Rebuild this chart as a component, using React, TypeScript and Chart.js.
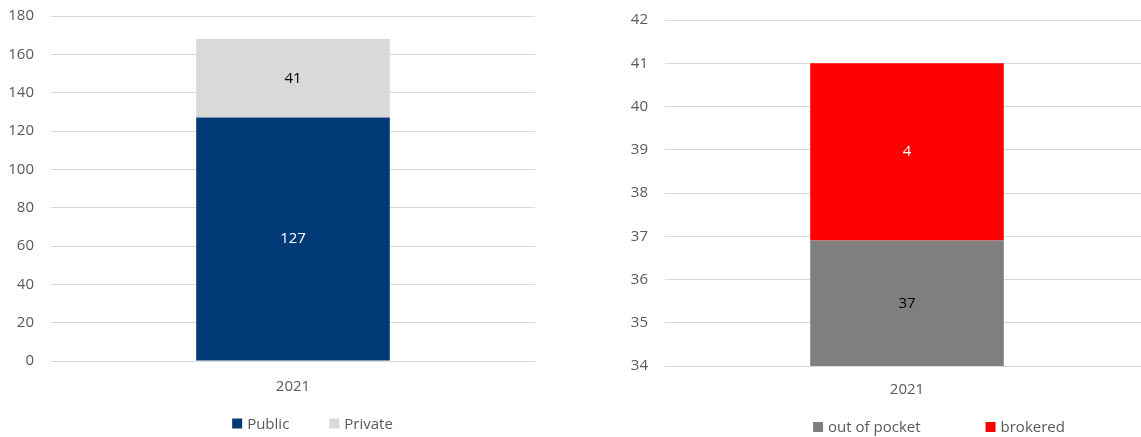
import React, { useEffect, useRef } from "react";
import { Chart, registerables } from "chart.js";

Chart.register(...registerables);

// ---- data ----
const categories = ["2021"];
const publicValues = [127];
const privateValues = [41];
const outOfPocketValues = [36.9];
const brokeredValues = [4.1];

const leftAxisMin = 0;
const leftAxisMax = 180;
const leftAxisStep = 20;
const rightAxisMin = 34;
const rightAxisMax = 42;
const rightAxisStep = 1;

// ---- style ----
const FONT = "'Open Sans', sans-serif";
const TEXT_GRAY = "#595959";
const GRID_GRAY = "#D9D9D9";

const barLabels = {
  id: "barLabels",
  afterDatasetsDraw(chart: any) {
    const { ctx, chartArea } = chart;
    chart.data.datasets.forEach((ds: any, i: number) => {
      const meta = chart.getDatasetMeta(i);
      meta.data.forEach((el: any, j: number) => {
        const v = ds.data[j];
        const top = Math.max(Math.min(el.y, el.base), chartArea.top);
        const bottom = Math.min(Math.max(el.y, el.base), chartArea.bottom);
        ctx.save();
        ctx.fillStyle = ds.labelColor;
        ctx.font = `15px ${FONT}`;
        ctx.textAlign = "center";
        ctx.textBaseline = "middle";
        ctx.fillText(String(Math.round(v)), el.x, (top + bottom) / 2);
        ctx.restore();
      });
    });
  },
};

const customLegend = {
  id: "customLegend",
  afterDraw(chart: any, _args: any, opts: any) {
    const { ctx } = chart;
    const box = 10;
    const boxGap = 5;
    ctx.save();
    ctx.font = `15px ${FONT}`;
    const items = chart.data.datasets.map((ds: any) => ({
      text: ds.label,
      color: ds.backgroundColor,
      w: box + boxGap + ctx.measureText(ds.label).width,
    }));
    const total =
      items.reduce((s: number, it: any) => s + it.w, 0) + opts.gap * (items.length - 1);
    let x = opts.centerX - total / 2;
    ctx.textBaseline = "middle";
    ctx.textAlign = "left";
    items.forEach((it: any) => {
      ctx.fillStyle = it.color;
      ctx.fillRect(x, opts.y - box / 2, box, box);
      ctx.fillStyle = TEXT_GRAY;
      ctx.fillText(it.text, x + box + boxGap, opts.y + 1);
      x += it.w + opts.gap;
    });
    ctx.restore();
  },
};

function makeConfig(p: {
  datasets: any[];
  min: number;
  max: number;
  step: number;
  yWidth: number;
  xHeight: number;
  xPad: number;
  padding: any;
  legend: any;
}) {
  return {
    type: "bar",
    data: { labels: categories, datasets: p.datasets },
    options: {
      responsive: false,
      animation: false,
      devicePixelRatio: 1,
      layout: { padding: p.padding },
      datasets: { bar: { clip: 0, categoryPercentage: 1, barPercentage: 0.4 } },
      plugins: {
        legend: { display: false },
        tooltip: { enabled: false },
        customLegend: p.legend,
      },
      scales: {
        x: {
          stacked: true,
          grid: { display: false, drawTicks: false },
          border: { display: false },
          ticks: { color: TEXT_GRAY, font: { family: FONT, size: 15 }, padding: p.xPad },
          afterFit: (s: any) => {
            s.height = p.xHeight;
          },
        },
        y: {
          stacked: true,
          min: p.min,
          max: p.max,
          ticks: {
            stepSize: p.step,
            color: TEXT_GRAY,
            font: { family: FONT, size: 15 },
            padding: 17,
          },
          grid: { color: GRID_GRAY, lineWidth: 1, drawTicks: false },
          border: { display: false },
          afterFit: (s: any) => {
            s.width = p.yWidth;
            s.paddingTop = 0;
            s.paddingBottom = 0;
          },
        },
      },
    },
    plugins: [barLabels, customLegend],
  };
}

function ChartBox({ config, left, width }: { config: any; left: number; width: number }) {
  const ref = useRef<HTMLCanvasElement | null>(null);
  useEffect(() => {
    const c = new Chart(ref.current as HTMLCanvasElement, config);
    return () => c.destroy();
  }, []);
  return (
    <div style={{ position: "absolute", left, top: 0, width, height: 437 }}>
      <canvas ref={ref} width={width} height={437} style={{ display: "block" }} />
    </div>
  );
}

export default function App() {
  const leftConfig = makeConfig({
    datasets: [
      { label: "Public", data: publicValues, backgroundColor: "#003A77", labelColor: "#FFFFFF" },
      { label: "Private", data: privateValues, backgroundColor: "#D9D9D9", labelColor: "#000000" },
    ],
    min: leftAxisMin,
    max: leftAxisMax,
    step: leftAxisStep,
    yWidth: 51,
    xHeight: 76,
    xPad: 17,
    padding: { top: 16, right: 25, bottom: 0, left: 0 },
    legend: { centerX: 312.5, y: 423.5, gap: 40 },
  });
  const rightConfig = makeConfig({
    datasets: [
      { label: "out of pocket", data: outOfPocketValues, backgroundColor: "#7F7F7F", labelColor: "#000000" },
      { label: "brokered", data: brokeredValues, backgroundColor: "#FF0000", labelColor: "#FFFFFF" },
    ],
    min: rightAxisMin,
    max: rightAxisMax,
    step: rightAxisStep,
    yWidth: 85,
    xHeight: 71,
    xPad: 15,
    padding: { top: 20, right: 1, bottom: 0, left: 0 },
    legend: { centerX: 359, y: 427, gap: 65 },
  });
  return (
    <div
      style={{
        position: "absolute",
        left: 0,
        top: 0,
        width: 1141,
        height: 437,
        overflow: "hidden",
        background: "#FFFFFF",
      }}
    >
      <ChartBox config={leftConfig} left={0} width={560} />
      <ChartBox config={rightConfig} left={580} width={570} />
    </div>
  );
}
